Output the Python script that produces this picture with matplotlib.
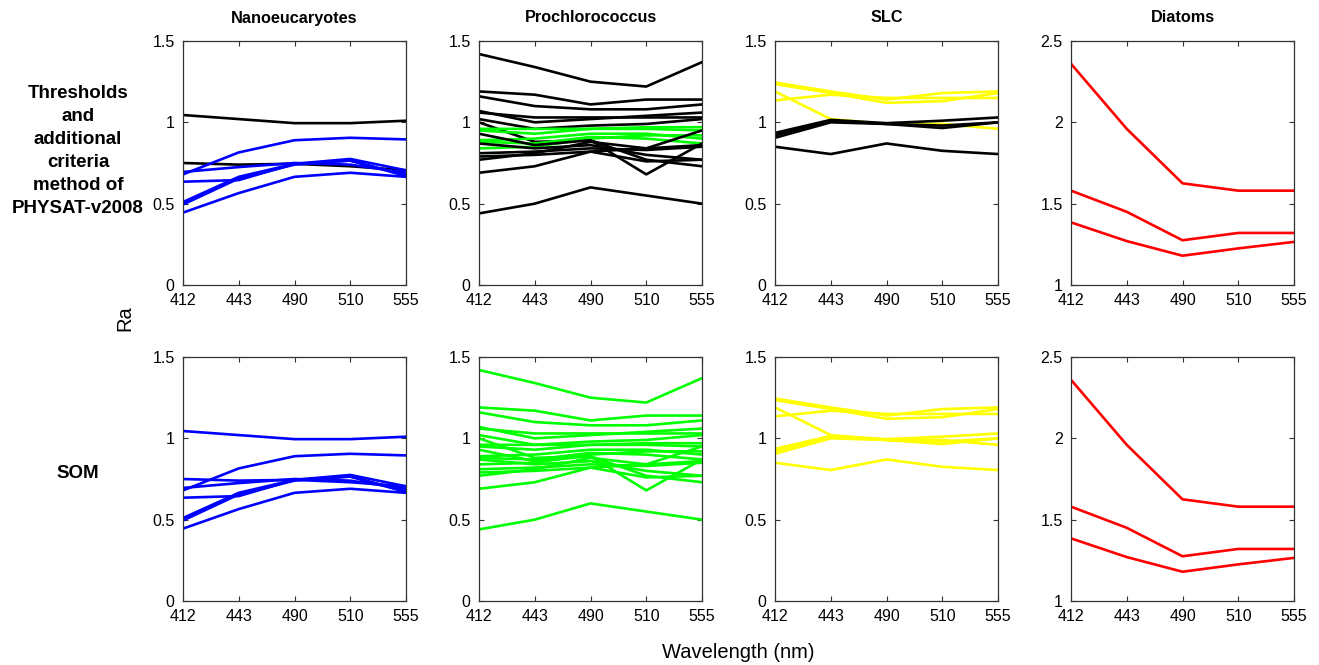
import matplotlib
matplotlib.use("Agg")
import matplotlib.pyplot as plt

plt.rcParams['font.family'] = ['Liberation Sans', 'DejaVu Sans']

wavelengths = ["412", "443", "490", "510", "555"]
groups = ["Nanoeucaryotes", "Prochlorococcus", "SLC", "Diatoms"]
row_labels = ["Thresholds\nand\nadditional\ncriteria\nmethod of\nPHYSAT-v2008", "SOM"]

# Each spectrum: values at 412..555; flag True = matched by PHYSAT thresholds (group colour in top row)
nano_spectra = [
    [1.045, 1.02, 0.995, 0.995, 1.01],
    [0.75, 0.74, 0.745, 0.73, 0.705],
    [0.68, 0.815, 0.89, 0.905, 0.895],
    [0.695, 0.725, 0.75, 0.74, 0.69],
    [0.635, 0.645, 0.745, 0.765, 0.675],
    [0.51, 0.665, 0.745, 0.775, 0.705],
    [0.495, 0.655, 0.74, 0.765, 0.67],
    [0.445, 0.565, 0.665, 0.69, 0.665],
]
nano_flags = [False, False, True, True, True, True, True, True]

proc_spectra = [
    [1.42, 1.34, 1.25, 1.22, 1.37],
    [1.19, 1.17, 1.11, 1.14, 1.14],
    [1.16, 1.10, 1.08, 1.08, 1.11],
    [1.07, 1.00, 1.02, 1.04, 1.06],
    [1.06, 1.03, 1.03, 1.03, 1.03],
    [1.02, 0.96, 0.98, 0.99, 1.02],
    [1.00, 0.88, 0.89, 0.77, 0.73],
    [0.96, 0.96, 0.96, 0.97, 0.97],
    [0.95, 0.93, 0.96, 0.96, 0.95],
    [0.89, 0.90, 0.93, 0.93, 0.90],
    [0.88, 0.87, 0.91, 0.90, 0.87],
    [0.84, 0.85, 0.90, 0.92, 0.92],
    [0.93, 0.86, 0.89, 0.68, 0.87],
    [0.87, 0.84, 0.86, 0.80, 0.77],
    [0.81, 0.82, 0.84, 0.83, 0.85],
    [0.79, 0.80, 0.82, 0.76, 0.77],
    [0.77, 0.81, 0.88, 0.84, 0.95],
    [0.69, 0.73, 0.82, 0.84, 0.86],
    [0.44, 0.50, 0.60, 0.55, 0.50],
]
proc_flags = [False, False, False, False, False, False, False,
              True, True, True, True, True,
              False, False, False, False, False, False, False]

slc_spectra = [
    [1.245, 1.19, 1.14, 1.18, 1.19],
    [1.235, 1.18, 1.12, 1.13, 1.18],
    [1.135, 1.17, 1.15, 1.15, 1.15],
    [1.19, 1.02, 0.99, 0.99, 0.96],
    [0.935, 1.015, 0.995, 1.01, 1.03],
    [0.92, 1.01, 0.99, 0.965, 1.0],
    [0.905, 1.0, 0.99, 0.98, 1.0],
    [0.85, 0.805, 0.87, 0.825, 0.805],
]
slc_flags = [True, True, True, True, False, False, False, False]

diatom_spectra = [
    [2.36, 1.96, 1.625, 1.58, 1.58],
    [1.58, 1.45, 1.275, 1.32, 1.32],
    [1.385, 1.27, 1.18, 1.225, 1.265],
]
diatom_flags = [True, True, True]

group_colors = ["#0000ff", "#00ff00", "#ffff00", "#ff0000"]
ylims = [(0, 1.5), (0, 1.5), (0, 1.5), (1, 2.5)]
yticks = [[0, 0.5, 1, 1.5], [0, 0.5, 1, 1.5], [0, 0.5, 1, 1.5], [1, 1.5, 2, 2.5]]
ytlabels = [["0", "0.5", "1", "1.5"]] * 3 + [["1", "1.5", "2", "2.5"]]

all_spectra = [nano_spectra, proc_spectra, slc_spectra, diatom_spectra]
all_flags = [nano_flags, proc_flags, slc_flags, diatom_flags]

W, H = 1319, 665
fig = plt.figure(figsize=(W / 100, H / 100), dpi=100)

col_left = [183, 479, 775, 1071]
ax_w = 223
row_top = [41, 357]
ax_h = 244

xpos = list(range(len(wavelengths)))
for r in range(2):
    for c in range(4):
        ax = fig.add_axes([col_left[c] / W, 1 - (row_top[r] + ax_h) / H, ax_w / W, ax_h / H])
        for spec, flag in zip(all_spectra[c], all_flags[c]):
            if r == 0:
                col = group_colors[c] if flag else "black"
            else:
                col = group_colors[c]
            ax.plot(xpos, spec, color=col, lw=1.9)
        ax.set_xlim(0, 4)
        ax.set_ylim(*ylims[c])
        ax.set_xticks(xpos)
        ax.set_xticklabels(wavelengths)
        ax.set_yticks(yticks[c])
        ax.set_yticklabels(ytlabels[c])
        ax.tick_params(direction="in", top=True, right=True, length=3.5, width=0.8,
                       labelsize=11.5, pad=6, colors="#333333", labelcolor="black")
        for s in ax.spines.values():
            s.set_color("#333333")
            s.set_linewidth(0.9)
        if r == 0:
            fig.text((col_left[c] + ax_w / 2) / W, 1 - 18 / H, groups[c],
                     ha="center", va="center", fontsize=11.7, fontweight="bold")

fig.text(78 / W, 1 - 151 / H, row_labels[0], ha="center", va="center",
         fontsize=13.5, fontweight="bold", linespacing=1.47)
fig.text(78 / W, 1 - 474 / H, row_labels[1], ha="center", va="center",
         fontsize=13.5, fontweight="bold")
fig.text(125 / W, 1 - 318 / H, "Ra", ha="center", va="center", rotation=90, fontsize=14.5)
fig.text(738 / W, 1 - 652 / H, "Wavelength (nm)", ha="center", va="center", fontsize=14.5)

fig.savefig("out.png", dpi=100)
